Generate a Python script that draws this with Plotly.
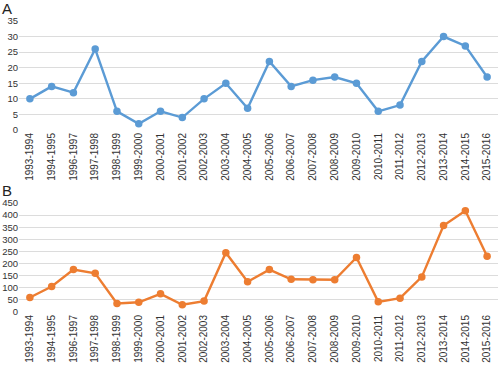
import plotly.graph_objects as go
from plotly.subplots import make_subplots

seasons = ["1993-1994", "1994-1995", "1996-1997", "1997-1998", "1998-1999", "1999-2000",
           "2000-2001", "2001-2002", "2002-2003", "2003-2004", "2004-2005", "2005-2006",
           "2006-2007", "2007-2008", "2008-2009", "2009-2010", "2010-2011", "2011-2012",
           "2012-2013", "2013-2014", "2014-2015", "2015-2016"]
values_a = [10, 14, 12, 26, 6, 2, 6, 4, 10, 15, 7, 22, 14, 16, 17, 15, 6, 8, 22, 30, 27, 17]
values_b = [60, 105, 175, 160, 35, 40, 75, 30, 45, 245, 125, 175, 135, 133, 133, 225, 42, 57,
            145, 357, 418, 230]

H = 367.0
fig = make_subplots(rows=2, cols=1)
fig.add_trace(go.Scatter(x=seasons, y=values_a, mode="lines+markers",
                         line=dict(color="#5B9BD5", width=2.4),
                         marker=dict(size=7.5, color="#5B9BD5")), row=1, col=1)
fig.add_trace(go.Scatter(x=seasons, y=values_b, mode="lines+markers",
                         line=dict(color="#ED7D31", width=2.4),
                         marker=dict(size=7.5, color="#ED7D31")), row=2, col=1)

xfont = dict(family="Liberation Sans, Arial, sans-serif", size=10, color="#333333")
yfont = dict(family="Liberation Sans, Arial, sans-serif", size=9.5, color="#333333")
for r in (1, 2):
    fig.update_xaxes(row=r, col=1, type="category", range=[-0.5, 21.5], tickangle=-90,
                     showgrid=False, showline=False, zeroline=False, ticks="",
                     tickfont=xfont, fixedrange=True, automargin=False)
fig.update_yaxes(row=1, col=1, range=[0, 35], dtick=5, domain=[1 - 130 / H, 1 - 21 / H])
fig.update_yaxes(row=2, col=1, range=[0, 450], dtick=50, domain=[1 - 312 / H, 1 - 203 / H])
fig.update_yaxes(showgrid=True, gridcolor="#dcdcdc", gridwidth=1, zeroline=False,
                 showline=False, ticks="", tickfont=yfont, automargin=False)

fig.add_annotation(text="A", x=0, y=1, xref="paper", yref="paper", xanchor="left", yanchor="top",
                   showarrow=False, font=dict(family="Liberation Sans, Arial", size=15, color="#222"),
                   xshift=-19, yshift=2)
fig.add_annotation(text="B", x=0, y=1 - 186 / H, xref="paper", yref="paper", xanchor="left",
                   yanchor="top", showarrow=False,
                   font=dict(family="Liberation Sans, Arial", size=15, color="#222"),
                   xshift=-19, yshift=6)

fig.update_layout(width=500, height=367, margin=dict(l=19, r=2, t=0, b=0, autoexpand=False),
                  showlegend=False, plot_bgcolor="white", paper_bgcolor="white")
fig.write_html("out.html", config={"displayModeBar": False},
               post_script="document.body.style.margin='0';document.body.style.overflow='hidden';")
